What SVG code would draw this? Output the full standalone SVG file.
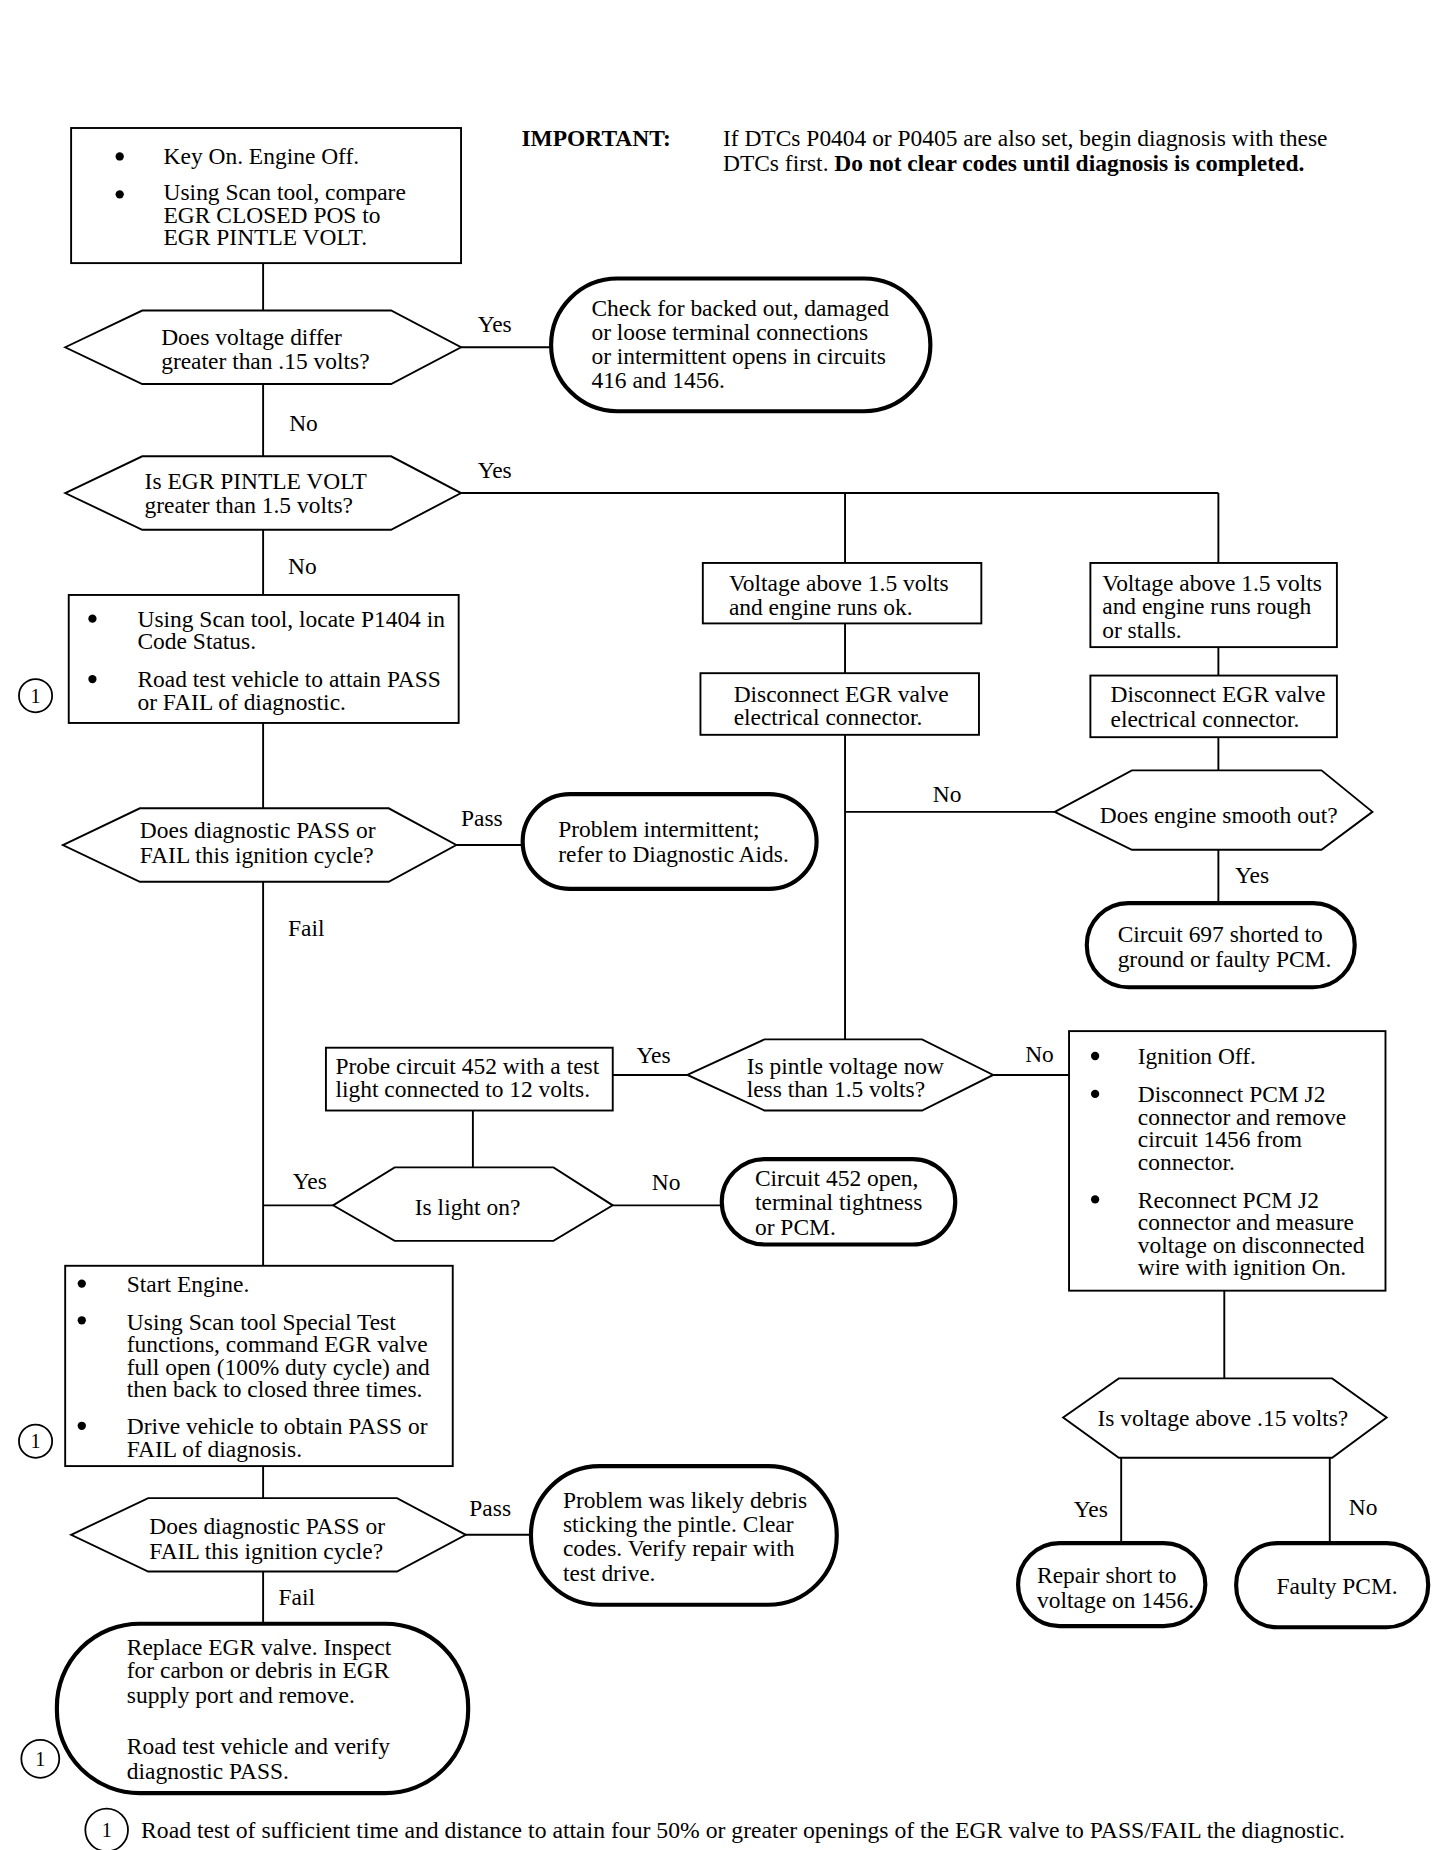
<svg xmlns="http://www.w3.org/2000/svg" width="1440" height="1850" viewBox="0 0 1440 1850">
<style>
text{font-family:"Liberation Serif","Times New Roman",serif;font-size:19.8px;fill:#000}
.b{font-weight:bold}
.box{fill:#fff;stroke:#000;stroke-width:1.6}
.hex{fill:#fff;stroke:#000;stroke-width:1.6}
.term{fill:#fff;stroke:#000;stroke-width:3.5}
.ln{stroke:#000;stroke-width:1.6;fill:none}
.dot{fill:#000}
.cir{fill:#fff;stroke:#000;stroke-width:1.5}
.lbl{font-size:19.8px}
.num{font-size:17px}
.foot{font-size:20px}
</style>
<rect width="1440" height="1850" fill="#fff"/>
<g transform="scale(1.18519)">
<g id="header">
<text class="b" x="440" y="123">IMPORTANT:</text>
<text x="610" y="123">If DTCs P0404 or P0405 are also set, begin diagnosis with these</text>
<text x="610" y="144">DTCs first. <tspan class="b">Do not clear codes until diagnosis is completed.</tspan></text>
</g>
<g id="connectors">
<path class="ln" d="M222 222V262M222 324V385M222 447V502M222 610V682M222 744V1068M222 1017H281M222 1237V1264M222 1326V1370"/>
<path class="ln" d="M389 293H465M389 416H1028M713 416V475M1028 416V475M385 713H441"/>
<path class="ln" d="M713 526V568M713 620V877M713 685H890M1028 546V570M1028 622V650M1028 717V762"/>
<path class="ln" d="M580 907H517M399 937V985M517 1017H609M838 907H902M1033 1089V1163M946 1230V1302M1122 1230V1302M393 1295H448"/>
<text class="lbl" x="403" y="280">Yes</text>
<text class="lbl" x="244" y="364">No</text>
<text class="lbl" x="403" y="403">Yes</text>
<text class="lbl" x="243" y="484">No</text>
<text class="lbl" x="389" y="697">Pass</text>
<text class="lbl" x="243" y="790">Fail</text>
<text class="lbl" x="787" y="677">No</text>
<text class="lbl" x="1042" y="745">Yes</text>
<text class="lbl" x="537" y="897">Yes</text>
<text class="lbl" x="865" y="896">No</text>
<text class="lbl" x="247" y="1003">Yes</text>
<text class="lbl" x="550" y="1004">No</text>
<text class="lbl" x="906" y="1280">Yes</text>
<text class="lbl" x="1138" y="1278">No</text>
<text class="lbl" x="396" y="1279">Pass</text>
<text class="lbl" x="235" y="1354">Fail</text>
</g>
<g id="box1">
<rect class="box" x="60" y="108" width="329" height="114"/>
<circle class="dot" cx="101" cy="132" r="3.5"/>
<circle class="dot" cx="101" cy="164" r="3.5"/>
<text x="138" y="138">Key On. Engine Off.</text>
<text x="138" y="169">Using Scan tool, compare</text>
<text x="138" y="188">EGR CLOSED POS to</text>
<text x="138" y="207">EGR PINTLE VOLT.</text>
</g>
<g id="dec1">
<polygon class="hex" points="55,293 120,262 330,262 389,293 330,324 120,324"/>
<text x="136" y="291">Does voltage differ</text>
<text x="136" y="311">greater than .15 volts?</text>
</g>
<g id="term1">
<rect class="term" x="465" y="235" width="320" height="112" rx="56" ry="56"/>
<text x="499" y="267">Check for backed out, damaged</text>
<text x="499" y="287">or loose terminal connections</text>
<text x="499" y="307">or intermittent opens in circuits</text>
<text x="499" y="327">416 and 1456.</text>
</g>
<g id="dec2">
<polygon class="hex" points="55,416 120,385 330,385 389,416 330,447 120,447"/>
<text x="122" y="413">Is EGR PINTLE VOLT</text>
<text x="122" y="433">greater than 1.5 volts?</text>
</g>
<g id="box2">
<rect class="box" x="58" y="502" width="329" height="108"/>
<circle class="dot" cx="78" cy="522" r="3.5"/>
<circle class="dot" cx="78" cy="573" r="3.5"/>
<text x="116" y="529">Using Scan tool, locate P1404 in</text>
<text x="116" y="548">Code Status.</text>
<text x="116" y="580">Road test vehicle to attain PASS</text>
<text x="116" y="599">or FAIL of diagnostic.</text>
<circle class="cir" cx="30" cy="587" r="14"/>
<text class="num" x="30" y="593" text-anchor="middle">1</text>
</g>
<g id="dec3">
<polygon class="hex" points="53,713 118,682 328,682 385,713 328,744 118,744"/>
<text x="118" y="707">Does diagnostic PASS or</text>
<text x="118" y="728">FAIL this ignition cycle?</text>
</g>
<g id="term2">
<rect class="term" x="441" y="670" width="248" height="80" rx="40" ry="40"/>
<text x="471" y="706">Problem intermittent;</text>
<text x="471" y="727">refer to Diagnostic Aids.</text>
</g>
<g id="boxR1a">
<rect class="box" x="593" y="475" width="235" height="51"/>
<text x="615" y="499">Voltage above 1.5 volts</text>
<text x="615" y="519">and engine runs ok.</text>
</g>
<g id="boxR1b">
<rect class="box" x="591" y="568" width="235" height="52"/>
<text x="619" y="592">Disconnect EGR valve</text>
<text x="619" y="612">electrical connector.</text>
</g>
<g id="boxR2a">
<rect class="box" x="920" y="475" width="208" height="71"/>
<text x="930" y="499">Voltage above 1.5 volts</text>
<text x="930" y="518">and engine runs rough</text>
<text x="930" y="538">or stalls.</text>
</g>
<g id="boxR2b">
<rect class="box" x="920" y="570" width="208" height="52"/>
<text x="937" y="592">Disconnect EGR valve</text>
<text x="937" y="613">electrical connector.</text>
</g>
<g id="dec4">
<polygon class="hex" points="890,685 955,650 1115,650 1158,685 1115,717 955,717"/>
<text x="928" y="694">Does engine smooth out?</text>
</g>
<g id="term3">
<rect class="term" x="917" y="762" width="226" height="71" rx="35" ry="35"/>
<text x="943" y="795">Circuit 697 shorted to</text>
<text x="943" y="816">ground or faulty PCM.</text>
</g>
<g id="dec5">
<polygon class="hex" points="580,907 645,877 778,877 838,907 778,937 645,937"/>
<text x="630" y="906">Is pintle voltage now</text>
<text x="630" y="926">less than 1.5 volts?</text>
</g>
<g id="boxP">
<rect class="box" x="275" y="884" width="242" height="53"/>
<text x="283" y="906">Probe circuit 452 with a test</text>
<text x="283" y="926">light connected to 12 volts.</text>
</g>
<g id="dec6">
<polygon class="hex" points="281,1017 333,985 467,985 517,1017 467,1047 333,1047"/>
<text x="350" y="1025">Is light on?</text>
</g>
<g id="term4">
<rect class="term" x="609" y="978" width="197" height="72" rx="36" ry="36"/>
<text x="637" y="1001">Circuit 452 open,</text>
<text x="637" y="1021">terminal tightness</text>
<text x="637" y="1042">or PCM.</text>
</g>
<g id="boxQ">
<rect class="box" x="902" y="870" width="267" height="219"/>
<circle class="dot" cx="924" cy="891" r="3.5"/>
<circle class="dot" cx="924" cy="923" r="3.5"/>
<circle class="dot" cx="924" cy="1012" r="3.5"/>
<text x="960" y="898">Ignition Off.</text>
<text x="960" y="930">Disconnect PCM J2</text>
<text x="960" y="949">connector and remove</text>
<text x="960" y="968">circuit 1456 from</text>
<text x="960" y="987">connector.</text>
<text x="960" y="1019">Reconnect PCM J2</text>
<text x="960" y="1038">connector and measure</text>
<text x="960" y="1057">voltage on disconnected</text>
<text x="960" y="1076">wire with ignition On.</text>
</g>
<g id="dec7">
<polygon class="hex" points="897,1196 944,1163 1124,1163 1170,1196 1124,1230 944,1230"/>
<text x="926" y="1203">Is voltage above .15 volts?</text>
</g>
<g id="term5">
<rect class="term" x="859" y="1302" width="158" height="70" rx="35" ry="35"/>
<text x="875" y="1336">Repair short to</text>
<text x="875" y="1357">voltage on 1456.</text>
</g>
<g id="term6">
<rect class="term" x="1043" y="1302" width="162" height="71" rx="35" ry="35"/>
<text x="1077" y="1345">Faulty PCM.</text>
</g>
<g id="boxS">
<rect class="box" x="55" y="1068" width="327" height="169"/>
<circle class="dot" cx="69" cy="1083" r="3.5"/>
<circle class="dot" cx="69" cy="1114" r="3.5"/>
<circle class="dot" cx="69" cy="1203" r="3.5"/>
<text x="107" y="1090">Start Engine.</text>
<text x="107" y="1122">Using Scan tool Special Test</text>
<text x="107" y="1141">functions, command EGR valve</text>
<text x="107" y="1160">full open (100% duty cycle) and</text>
<text x="107" y="1179">then back to closed three times.</text>
<text x="107" y="1210">Drive vehicle to obtain PASS or</text>
<text x="107" y="1229">FAIL of diagnosis.</text>
<circle class="cir" cx="30" cy="1216" r="14"/>
<text class="num" x="30" y="1222" text-anchor="middle">1</text>
</g>
<g id="dec8">
<polygon class="hex" points="60,1295 125,1264 335,1264 393,1295 335,1326 125,1326"/>
<text x="126" y="1294">Does diagnostic PASS or</text>
<text x="126" y="1315">FAIL this ignition cycle?</text>
</g>
<g id="term7">
<rect class="term" x="448" y="1237" width="258" height="117" rx="58" ry="58"/>
<text x="475" y="1272">Problem was likely debris</text>
<text x="475" y="1293">sticking the pintle. Clear</text>
<text x="475" y="1313">codes. Verify repair with</text>
<text x="475" y="1334">test drive.</text>
</g>
<g id="term8">
<rect class="term" x="48" y="1370" width="347" height="143" rx="70" ry="70"/>
<text x="107" y="1396">Replace EGR valve. Inspect</text>
<text x="107" y="1416">for carbon or debris in EGR</text>
<text x="107" y="1437">supply port and remove.</text>
<text x="107" y="1480">Road test vehicle and verify</text>
<text x="107" y="1501">diagnostic PASS.</text>
<circle class="cir" cx="34" cy="1484" r="16"/>
<text class="num" x="34" y="1490" text-anchor="middle">1</text>
</g>
<g id="footnote">
<circle class="cir" cx="90" cy="1544" r="18"/>
<text class="num" x="90" y="1550" text-anchor="middle">1</text>
<text class="foot" x="119" y="1551">Road test of sufficient time and distance to attain four 50% or greater openings of the EGR valve to PASS/FAIL the diagnostic.</text>
</g>
</g>
</svg>
